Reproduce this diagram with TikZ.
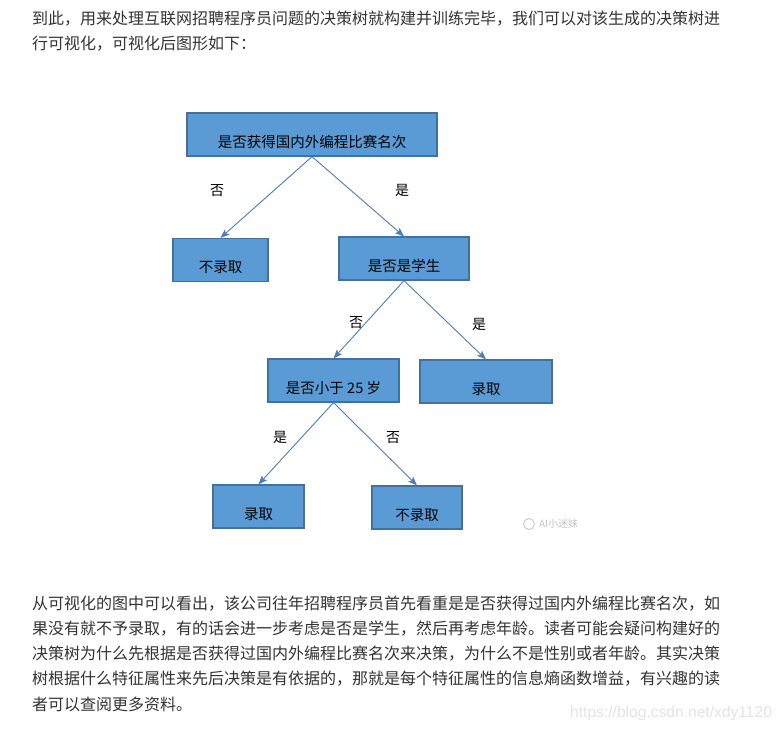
\documentclass[tikz,border=0pt]{standalone}
\usepackage{fontspec}
\setmainfont{Noto Sans CJK SC}
\newfontfamily\urlfont{Liberation Sans}
\usepackage{tikz}
\usetikzlibrary{arrows.meta, positioning}
\usepackage{xcolor}
\definecolor{boxblue}{HTML}{5B9BD5}
\definecolor{boxedge}{HTML}{41719C}
\definecolor{arrowblue}{HTML}{4A7EBB}
\definecolor{bodygray}{HTML}{333333}
\definecolor{markgray}{HTML}{C4C4C4}
\definecolor{urlgray}{HTML}{E4E4E4}
\tikzstyle{block} = [rectangle, draw=boxedge, line width=1.2pt, fill=boxblue, minimum height=43pt, inner sep=0pt, text height=25pt, text depth=0pt, text=black, font=\fontsize{14.5}{16}\selectfont]
\tikzstyle{arrow} = [-{Stealth[length=9pt, width=7pt, inset=2pt]}, line width=0.9pt, color=arrowblue]
\tikzstyle{branch} = [inner sep=0pt, text=black, font=\fontsize{14}{16}\selectfont]
\tikzstyle{bodytext} = [anchor=west, inner sep=0pt, text=bodygray, font=\fontsize{16}{25}\selectfont]

\begin{document}
\begin{tikzpicture}[x=1pt, y=-1pt]
    % Page
    \path[use as bounding box, fill=white] (0,0) rectangle (784,732);

    % Intro text
    \node[bodytext] (intro1) at (32,19) {到此，用来处理互联网招聘程序员问题的决策树就构建并训练完毕，我们可以对该生成的决策树进};
    \node[bodytext] (intro2) at (32,44) {行可视化，可视化后图形如下：};

    % Tree
    \node[block, minimum width=250pt] (contest) at (312,134.5) {是否获得国内外编程比赛名次};
    \node[block, minimum width=95pt] (reject1) at (220.5,260) {不录取};
    \node[block, minimum width=130pt] (student) at (404,258.5) {是否是学生};
    \node[block, minimum width=131pt] (age) at (333.5,380.5) {是否小于 25 岁};
    \node[block, minimum width=132pt] (hire1) at (486,381.5) {录取};
    \node[block, minimum width=91pt] (hire2) at (258.5,506.5) {录取};
    \node[block, minimum width=90pt] (reject2) at (417,507.5) {不录取};

    % Arrows
    \draw[arrow] (contest.south) -- (reject1.north);
    \draw[arrow] (contest.south) -- (student.north);
    \draw[arrow] (student.south) -- (age.north);
    \draw[arrow] (student.south) -- (hire1.north);
    \draw[arrow] (age.south) -- (hire2.north);
    \draw[arrow] (age.south) -- (reject2.north);

    % Branch labels
    \node[branch] (contestno) at (217,191) {否};
    \node[branch] (contestyes) at (402,190) {是};
    \node[branch] (studentno) at (356,323) {否};
    \node[branch] (studentyes) at (479,324) {是};
    \node[branch] (ageyes) at (280,437) {是};
    \node[branch] (ageno) at (393,438) {否};

    % Watermarks
    \node[circle, draw=markgray, line width=0.8pt, minimum size=11pt, inner sep=0pt] (wxicon) at (529,524) {};
    \node[right=4pt of wxicon, inner sep=0pt, text=markgray, font=\fontsize{10}{12}\selectfont] (wxname) {AI小迷妹};

    % Closing text
    \foreach \txt [count=\i] in {从可视化的图中可以看出，该公司往年招聘程序员首先看重是是否获得过国内外编程比赛名次，如,
        果没有就不予录取，有的话会进一步考虑是否是学生，然后再考虑年龄。读者可能会疑问构建好的,
        决策树为什么先根据是否获得过国内外编程比赛名次来决策，为什么不是性别或者年龄。其实决策,
        树根据什么特征属性来先后决策是有依据的，那就是每个特征属性的信息熵函数增益，有兴趣的读,
        者可以查阅更多资料。}
        \node[bodytext] (outro\i) at (32,579+25*\i) {\txt};

    \node[anchor=west, inner sep=0pt, text=urlgray, font=\urlfont\fontsize{15.6}{18}\selectfont] (blogurl) at (570,713) {https://blog.csdn.net/xdy1120};
  \end{tikzpicture}
\end{document}
